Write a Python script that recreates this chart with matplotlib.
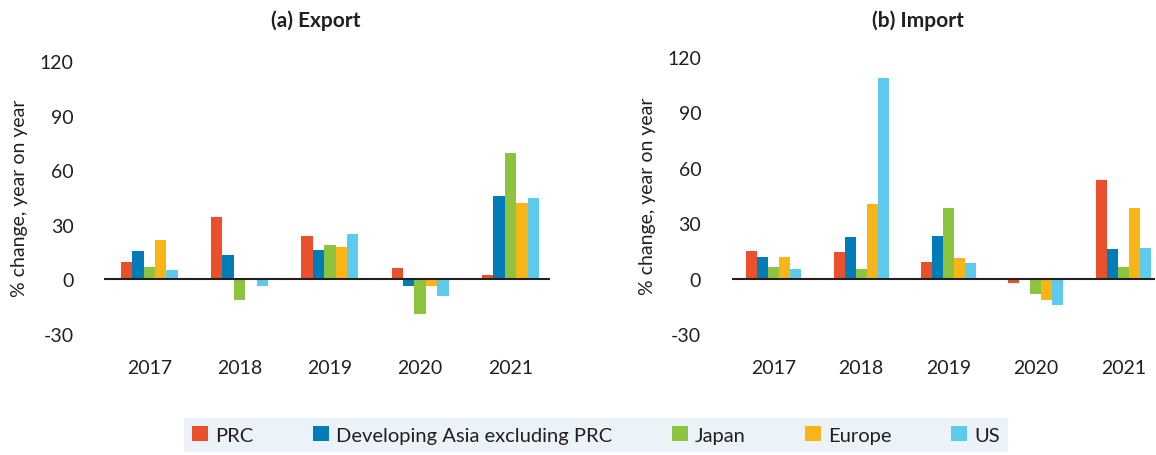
import matplotlib.pyplot as plt
import numpy as np

plt.rcParams['font.family'] = ['Lato', 'DejaVu Sans']
plt.rcParams['axes.unicode_minus'] = False

years = ['2017', '2018', '2019', '2020', '2021']
series = ['PRC', 'Developing Asia excluding PRC', 'Japan', 'Europe', 'US']
colors = ['#e9502b', '#007db8', '#8cc43f', '#f9b418', '#5ecbed']

# % change, year on year
export_prc = [9.4, 34.1, 23.7, 6.1, 2.2]
export_dev_asia = [15.4, 13.2, 16.0, -3.9, 45.7]
export_japan = [6.6, -11.6, 18.7, -19.3, 69.3]
export_europe = [21.5, 0.0, 17.6, -3.9, 41.8]
export_us = [5.0, -3.9, 24.8, -9.4, 44.6]

import_prc = [15.2, 14.6, 9.2, -2.2, 53.6]
import_dev_asia = [11.9, 22.7, 23.3, 0.0, 16.2]
import_japan = [6.5, 5.4, 38.4, -8.1, 6.5]
import_europe = [11.9, 40.6, 11.4, -11.4, 38.4]
import_us = [5.4, 108.8, 8.7, -14.1, 16.8]

yticks = [-30, 0, 30, 60, 90, 120]

fig = plt.figure(figsize=(11.56, 4.56), dpi=100)
ax1 = fig.add_axes([0.090, 0.266, 0.386, 0.598])
ax2 = fig.add_axes([0.633, 0.265, 0.366, 0.608])

def draw_panel(ax, data, xlim):
    x = np.arange(len(years))
    w = 0.126
    for i, vals in enumerate(data):
        ax.bar(x + (i - 2) * w, vals, width=w, color=colors[i], label=series[i])
    ax.axhline(0, color='#231f20', lw=1.5, zorder=3)
    ax.set_xlim(*xlim)
    ax.set_ylim(-30, 120)
    ax.set_yticks(yticks)
    ax.set_xticks(x)
    ax.set_xticklabels(years)
    for s in ax.spines.values():
        s.set_visible(False)
    ax.tick_params(length=0, labelsize=14, colors='#231f20')
    ax.tick_params(axis='x', pad=18)
    ax.tick_params(axis='y', pad=22)
    ax.set_ylabel('% change, year on year', fontsize=14, color='#231f20', labelpad=8)

draw_panel(ax1, [export_prc, export_dev_asia, export_japan, export_europe, export_us],
           (-0.50, 4.44))
draw_panel(ax2, [import_prc, import_dev_asia, import_japan, import_europe, import_us],
           (-0.48, 4.36))

fig.text(0.2734, 0.954, '(a) Export', ha='center', va='center', fontsize=15,
         fontweight='bold', color='#231f20')
fig.text(0.794, 0.954, '(b) Import', ha='center', va='center', fontsize=15,
         fontweight='bold', color='#231f20')

handles, labels = ax1.get_legend_handles_labels()
leg = fig.legend(handles, labels, loc='center', bbox_to_anchor=(0.5156, 0.044), ncol=5,
                 fontsize=14.5, frameon=True, fancybox=False, handlelength=0.8,
                 handleheight=0.8, handletextpad=0.35, columnspacing=2.95,
                 borderpad=0.4, borderaxespad=0)
leg.get_frame().set_facecolor('#e6f1f8')
leg.get_frame().set_edgecolor('none')
for t in leg.get_texts():
    t.set_color('#231f20')

fig.savefig('out.png', dpi=100)
